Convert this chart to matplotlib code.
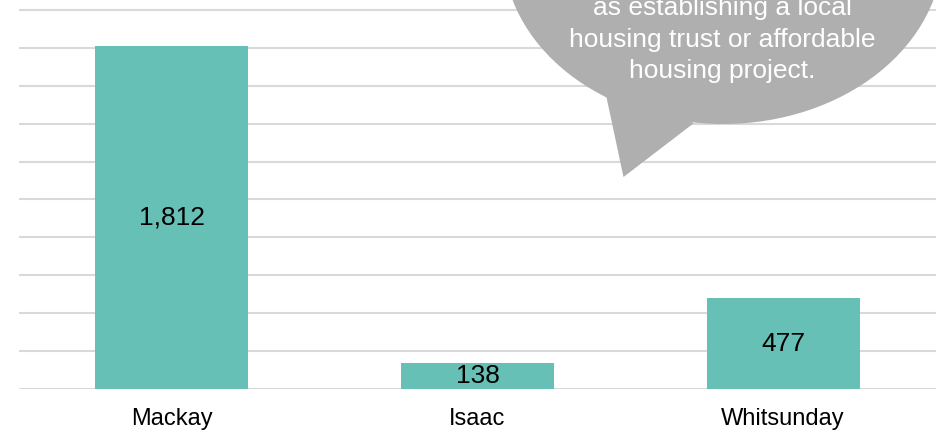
import matplotlib
matplotlib.use("Agg")
from matplotlib import pyplot as plt
from matplotlib.patches import Ellipse, Polygon

# values
councils = ["Mackay", "Isaac", "Whitsunday"]
households = [1812, 138, 477]
grid_ticks = [0, 200, 400, 600, 800, 1000, 1200, 1400, 1600, 1800, 2000]
bubble_lines = ["as establishing a local",
                "housing trust or affordable",
                "housing project."]

BAR_COLOR = "#67C0B5"
GRID_COLOR = "#D9D9D9"
BUBBLE_COLOR = "#AFAFAF"

plt.rcParams['font.family'] = ['Liberation Sans', 'DejaVu Sans']

W, H = 937, 430
fig = plt.figure(figsize=(W / 100, H / 100), dpi=100)
ax = fig.add_axes([19 / W, (H - 388.7) / H, 917 / W, 388.7 / H])

bars = ax.bar(range(len(councils)), households, width=0.5, color=BAR_COLOR, zorder=3)
ax.bar_label(bars, labels=[f"{v:,}" for v in households], label_type='center',
             fontsize=19, color='black')

ax.set_xlim(-0.5, len(councils) - 0.5)
ax.set_ylim(0, 2053)
ax.set_yticks(grid_ticks)
ax.yaxis.grid(True, color=GRID_COLOR, linewidth=1.5, zorder=0)
ax.set_yticklabels([])
ax.tick_params(axis='y', length=0)
ax.set_xticks(range(len(councils)))
ax.set_xticklabels(councils, fontsize=17)
ax.tick_params(axis='x', length=0, pad=14)
for s in ax.spines.values():
    s.set_visible(False)
ax.set_facecolor('none')

# speech bubble overlay, in pixel coordinates
ov = fig.add_axes([0, 0, 1, 1])
ov.set_xlim(0, W)
ov.set_ylim(H, 0)
ov.axis('off')
ov.add_patch(Ellipse((723, -51), 440, 350, facecolor=BUBBLE_COLOR, edgecolor='none'))
ov.add_patch(Polygon([(606, 95), (623.5, 177), (694, 123)], closed=True,
                     facecolor=BUBBLE_COLOR, edgecolor='none'))
for i, line in enumerate(bubble_lines):
    ov.text(722, 15 + i * 31.7, line, ha='center', va='baseline',
            fontsize=19, color='white')

fig.savefig("out.png", dpi=100)
